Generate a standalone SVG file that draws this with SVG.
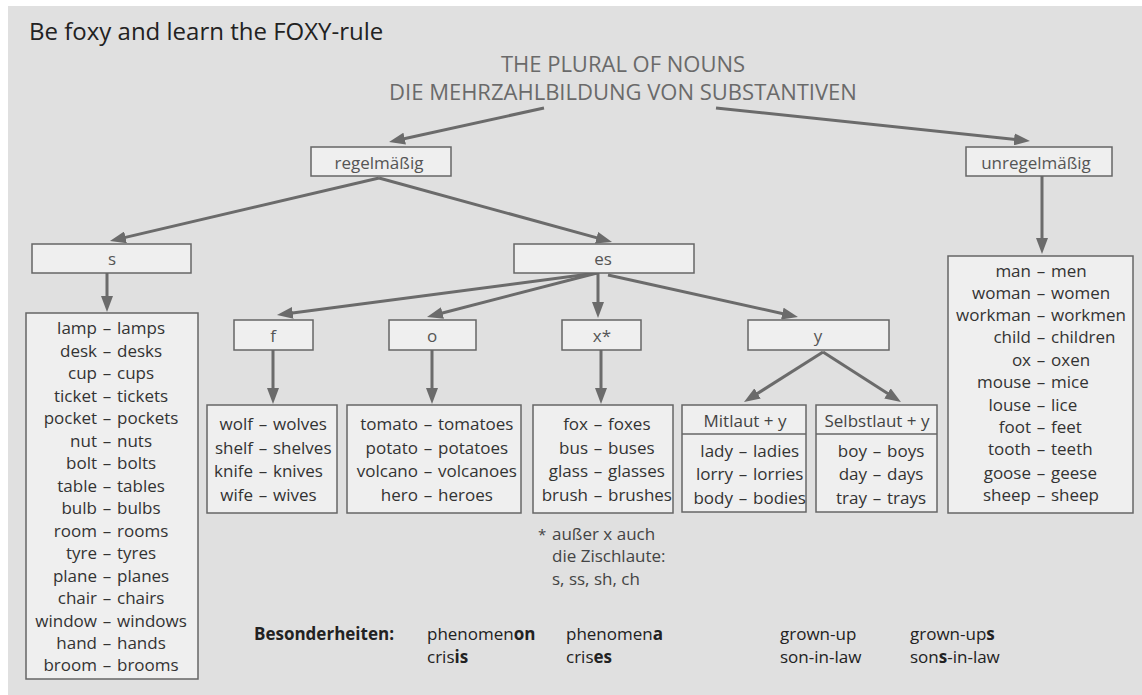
<svg xmlns="http://www.w3.org/2000/svg" width="1142" height="695" viewBox="0 0 1142 695">
<style>
text{font-family:"Open Sans","Liberation Sans",sans-serif}
.title{font-size:24px;fill:#222}
.head{font-size:22px;fill:#6a6a6a;text-anchor:middle}
.box{fill:#efefef;stroke:#666;stroke-width:1.5}
.lbl{font-size:17px;fill:#555;text-anchor:middle}
.lst{font-size:17px;fill:#333}
.r{text-anchor:end}
.c{text-anchor:middle}
.conn path{fill:none;stroke:#6b6b6b;stroke-width:3;marker-end:url(#ah)}
.note{font-size:17px;fill:#444}
.bes{font-size:17px;fill:#222}
.b{font-weight:bold}
</style>
<defs>
<marker id="ah" markerUnits="userSpaceOnUse" markerWidth="16" markerHeight="12" refX="10" refY="6" orient="auto">
<path d="M0,0 L16,6 L0,12 z" fill="#6b6b6b"/>
</marker>
</defs>
<rect x="8" y="6" width="1134" height="689" fill="#e0e0e0"/>
<text class="title" x="29" y="40">Be foxy and learn the FOXY-rule</text>
<g id="header">
<text class="head" x="623" y="72">THE PLURAL OF NOUNS</text>
<text class="head" x="623" y="100">DIE MEHRZAHLBILDUNG VON SUBSTANTIVEN</text>
</g>
<g class="conn" id="connectors">
<path d="M544,108 L394.9,140.7"/>
<path d="M716,108 L1024,140.4"/>
<path d="M379,178 L115.8,239.6"/>
<path d="M379,178 L606.2,240.4"/>
<path d="M107,273 L107,306"/>
<path d="M597,273 L282.9,314.2"/>
<path d="M597,273 L432.8,315.5"/>
<path d="M598,273 L598,312"/>
<path d="M608,275 L792.1,315.7"/>
<path d="M273,350 L273,398"/>
<path d="M432,350 L432,398"/>
<path d="M601,350 L601,398"/>
<path d="M823,352 L749.1,398.8"/>
<path d="M823,352 L895.9,398.8"/>
<path d="M1042,176 L1042,248"/>
</g>
<g id="regelmaessig">
<rect class="box" x="311" y="147" width="140" height="29"/>
<text class="lbl" x="379" y="169">regelmäßig</text>
</g>
<g id="unregelmaessig">
<rect class="box" x="966" y="147" width="146" height="29"/>
<text class="lbl" x="1036" y="169">unregelmäßig</text>
</g>
<g id="s">
<rect class="box" x="32" y="244" width="159" height="29"/>
<text class="lbl" x="112" y="265">s</text>
</g>
<g id="es">
<rect class="box" x="514" y="244" width="180" height="29"/>
<text class="lbl" x="603" y="265">es</text>
</g>
<g id="f">
<rect class="box" x="234" y="320" width="79" height="30"/>
<text class="lbl" x="273" y="342">f</text>
</g>
<g id="o">
<rect class="box" x="389" y="320" width="87" height="30"/>
<text class="lbl" x="432" y="342">o</text>
</g>
<g id="x">
<rect class="box" x="562" y="320" width="79" height="30"/>
<text class="lbl" x="602" y="342">x*</text>
</g>
<g id="y">
<rect class="box" x="748" y="320" width="141" height="30"/>
<text class="lbl" x="818" y="342">y</text>
</g>
<g id="s-list" class="lst">
<rect class="box" x="26" y="313" width="172" height="366"/>
<text y="334"><tspan class="r" x="97">lamp</tspan><tspan class="c" x="107">–</tspan><tspan x="117">lamps</tspan></text>
<text y="356.5"><tspan class="r" x="97">desk</tspan><tspan class="c" x="107">–</tspan><tspan x="117">desks</tspan></text>
<text y="379"><tspan class="r" x="97">cup</tspan><tspan class="c" x="107">–</tspan><tspan x="117">cups</tspan></text>
<text y="401.5"><tspan class="r" x="97">ticket</tspan><tspan class="c" x="107">–</tspan><tspan x="117">tickets</tspan></text>
<text y="424"><tspan class="r" x="97">pocket</tspan><tspan class="c" x="107">–</tspan><tspan x="117">pockets</tspan></text>
<text y="446.5"><tspan class="r" x="97">nut</tspan><tspan class="c" x="107">–</tspan><tspan x="117">nuts</tspan></text>
<text y="469"><tspan class="r" x="97">bolt</tspan><tspan class="c" x="107">–</tspan><tspan x="117">bolts</tspan></text>
<text y="491.5"><tspan class="r" x="97">table</tspan><tspan class="c" x="107">–</tspan><tspan x="117">tables</tspan></text>
<text y="514"><tspan class="r" x="97">bulb</tspan><tspan class="c" x="107">–</tspan><tspan x="117">bulbs</tspan></text>
<text y="536.5"><tspan class="r" x="97">room</tspan><tspan class="c" x="107">–</tspan><tspan x="117">rooms</tspan></text>
<text y="559"><tspan class="r" x="97">tyre</tspan><tspan class="c" x="107">–</tspan><tspan x="117">tyres</tspan></text>
<text y="581.5"><tspan class="r" x="97">plane</tspan><tspan class="c" x="107">–</tspan><tspan x="117">planes</tspan></text>
<text y="604"><tspan class="r" x="97">chair</tspan><tspan class="c" x="107">–</tspan><tspan x="117">chairs</tspan></text>
<text y="626.5"><tspan class="r" x="97">window</tspan><tspan class="c" x="107">–</tspan><tspan x="117">windows</tspan></text>
<text y="649"><tspan class="r" x="97">hand</tspan><tspan class="c" x="107">–</tspan><tspan x="117">hands</tspan></text>
<text y="671"><tspan class="r" x="97">broom</tspan><tspan class="c" x="107">–</tspan><tspan x="117">brooms</tspan></text>
</g>
<g id="f-list" class="lst">
<rect class="box" x="207" y="405" width="130" height="108"/>
<text y="430"><tspan class="r" x="253">wolf</tspan><tspan class="c" x="263">–</tspan><tspan x="273">wolves</tspan></text>
<text y="454"><tspan class="r" x="253">shelf</tspan><tspan class="c" x="263">–</tspan><tspan x="273">shelves</tspan></text>
<text y="477"><tspan class="r" x="253">knife</tspan><tspan class="c" x="263">–</tspan><tspan x="273">knives</tspan></text>
<text y="501"><tspan class="r" x="253">wife</tspan><tspan class="c" x="263">–</tspan><tspan x="273">wives</tspan></text>
</g>
<g id="o-list" class="lst">
<rect class="box" x="347" y="405" width="174" height="108"/>
<text y="430"><tspan class="r" x="418">tomato</tspan><tspan class="c" x="428">–</tspan><tspan x="438">tomatoes</tspan></text>
<text y="454"><tspan class="r" x="418">potato</tspan><tspan class="c" x="428">–</tspan><tspan x="438">potatoes</tspan></text>
<text y="477"><tspan class="r" x="418">volcano</tspan><tspan class="c" x="428">–</tspan><tspan x="438">volcanoes</tspan></text>
<text y="501"><tspan class="r" x="418">hero</tspan><tspan class="c" x="428">–</tspan><tspan x="438">heroes</tspan></text>
</g>
<g id="x-list" class="lst">
<rect class="box" x="533" y="405" width="140" height="108"/>
<text y="430"><tspan class="r" x="588">fox</tspan><tspan class="c" x="598">–</tspan><tspan x="608">foxes</tspan></text>
<text y="454"><tspan class="r" x="588">bus</tspan><tspan class="c" x="598">–</tspan><tspan x="608">buses</tspan></text>
<text y="477"><tspan class="r" x="588">glass</tspan><tspan class="c" x="598">–</tspan><tspan x="608">glasses</tspan></text>
<text y="501"><tspan class="r" x="588">brush</tspan><tspan class="c" x="598">–</tspan><tspan x="608">brushes</tspan></text>
</g>
<g id="footnote" class="note">
<text x="538" y="540" style="font-size:15px">*</text>
<text x="552" y="540">außer x auch</text>
<text x="552" y="562">die Zischlaute:</text>
<text x="552" y="585">s, ss, sh, ch</text>
</g>
<g id="mitlaut" class="lst">
<rect class="box" x="682" y="405" width="124" height="107"/>
<line x1="682" y1="434" x2="806" y2="434" stroke="#666" stroke-width="1.5"/>
<text class="lbl" x="745" y="427" style="fill:#444">Mitlaut + y</text>
<text y="457"><tspan class="r" x="733">lady</tspan><tspan class="c" x="743">–</tspan><tspan x="753">ladies</tspan></text>
<text y="480"><tspan class="r" x="733">lorry</tspan><tspan class="c" x="743">–</tspan><tspan x="753">lorries</tspan></text>
<text y="504"><tspan class="r" x="733">body</tspan><tspan class="c" x="743">–</tspan><tspan x="753">bodies</tspan></text>
</g>
<g id="selbstlaut" class="lst">
<rect class="box" x="816" y="405" width="121" height="107"/>
<line x1="816" y1="434" x2="937" y2="434" stroke="#666" stroke-width="1.5"/>
<text class="lbl" x="877" y="427" style="fill:#444">Selbstlaut + y</text>
<text y="457"><tspan class="r" x="867">boy</tspan><tspan class="c" x="877">–</tspan><tspan x="887">boys</tspan></text>
<text y="480"><tspan class="r" x="867">day</tspan><tspan class="c" x="877">–</tspan><tspan x="887">days</tspan></text>
<text y="504"><tspan class="r" x="867">tray</tspan><tspan class="c" x="877">–</tspan><tspan x="887">trays</tspan></text>
</g>
<g id="irregular-list" class="lst">
<rect class="box" x="948" y="256" width="185" height="257"/>
<text y="277"><tspan class="r" x="1031">man</tspan><tspan class="c" x="1041">–</tspan><tspan x="1051">men</tspan></text>
<text y="299"><tspan class="r" x="1031">woman</tspan><tspan class="c" x="1041">–</tspan><tspan x="1051">women</tspan></text>
<text y="321"><tspan class="r" x="1031">workman</tspan><tspan class="c" x="1041">–</tspan><tspan x="1051">workmen</tspan></text>
<text y="343"><tspan class="r" x="1031">child</tspan><tspan class="c" x="1041">–</tspan><tspan x="1051">children</tspan></text>
<text y="366"><tspan class="r" x="1031">ox</tspan><tspan class="c" x="1041">–</tspan><tspan x="1051">oxen</tspan></text>
<text y="388"><tspan class="r" x="1031">mouse</tspan><tspan class="c" x="1041">–</tspan><tspan x="1051">mice</tspan></text>
<text y="411"><tspan class="r" x="1031">louse</tspan><tspan class="c" x="1041">–</tspan><tspan x="1051">lice</tspan></text>
<text y="433"><tspan class="r" x="1031">foot</tspan><tspan class="c" x="1041">–</tspan><tspan x="1051">feet</tspan></text>
<text y="455"><tspan class="r" x="1031">tooth</tspan><tspan class="c" x="1041">–</tspan><tspan x="1051">teeth</tspan></text>
<text y="479"><tspan class="r" x="1031">goose</tspan><tspan class="c" x="1041">–</tspan><tspan x="1051">geese</tspan></text>
<text y="501"><tspan class="r" x="1031">sheep</tspan><tspan class="c" x="1041">–</tspan><tspan x="1051">sheep</tspan></text>
</g>
<g id="besonderheiten" class="bes">
<text class="b" x="254" y="640">Besonderheiten:</text>
<text x="427" y="640">phenomen<tspan class="b">on</tspan></text>
<text x="427" y="663">cris<tspan class="b">is</tspan></text>
<text x="566" y="640">phenomen<tspan class="b">a</tspan></text>
<text x="566" y="663">cris<tspan class="b">es</tspan></text>
<text x="780" y="640">grown-up</text>
<text x="780" y="663">son-in-law</text>
<text x="910" y="640">grown-up<tspan class="b">s</tspan></text>
<text x="910" y="663">son<tspan class="b">s</tspan>-in-law</text>
</g>
</svg>
